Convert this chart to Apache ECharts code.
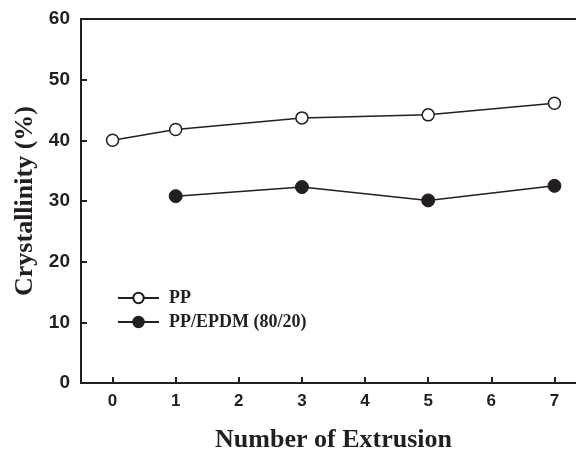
<!DOCTYPE html>
<html lang="en">
<head>
    <meta charset="UTF-8">
    <title>Crystallinity</title>
    <script src="https://cdn.jsdelivr.net/npm/echarts@6/dist/echarts.min.js"></script>
    <style>
        html, body { margin: 0; padding: 0; background: #fff; }
        #chart { width: 576px; height: 454px; }
    </style>
</head>
<body>
    <div id="chart"></div>
    <script>
        // data
        var extrusionPP = [0, 1, 3, 5, 7];
        var crystPP = [40.0, 41.8, 43.7, 44.2, 46.1];
        var extrusionBlend = [1, 3, 5, 7];
        var crystBlend = [30.8, 32.3, 30.1, 32.5];
        var xTicks = [0, 1, 2, 3, 4, 5, 6, 7];

        var ink = '#231f20';
        var sans = 'Liberation Sans';
        var serif = 'Liberation Serif';

        function pairs(xs, ys) {
            var out = [];
            for (var i = 0; i < xs.length; i++) out.push([xs[i], ys[i]]);
            return out;
        }

        var chart = echarts.init(document.getElementById('chart'));
        var option = {
            animation: false,
            backgroundColor: '#fff',
            // v6 shrinks the grid to fit labels unless told not to
            grid: { left: 81, right: -10, top: 19, bottom: 71, outerBoundsMode: 'none', containLabel: false },
            legend: {
                orient: 'vertical',
                left: 117,
                top: 289,
                padding: 0,
                itemWidth: 41,
                itemHeight: 13,
                itemGap: 6,
                textStyle: {
                    fontFamily: serif, fontWeight: 'bold', fontSize: 18, color: ink,
                    padding: [0, 0, 0, 5]
                },
                data: ['PP', 'PP/EPDM (80/20)']
            },
            xAxis: [{
                type: 'value',
                min: -0.5,
                max: 7.5,
                interval: 0.5,
                name: 'Number of Extrusion',
                nameLocation: 'middle',
                nameGap: 44,
                nameTextStyle: { fontFamily: serif, fontWeight: 'bold', fontSize: 26, color: ink },
                axisLine: { onZero: false, lineStyle: { color: ink, width: 2 } },
                axisTick: {
                    inside: true, length: 6, lineStyle: { color: ink, width: 2 },
                    customValues: xTicks
                },
                axisLabel: {
                    margin: 10,
                    fontFamily: sans, fontWeight: 'bold', fontSize: 17, color: ink,
                    customValues: xTicks
                },
                splitLine: { show: false }
            }, {
                type: 'value',
                position: 'top',
                min: -0.5,
                max: 7.5,
                axisLine: { show: true, onZero: false, lineStyle: { color: ink, width: 2 } },
                axisTick: { show: false },
                axisLabel: { show: false },
                splitLine: { show: false }
            }],
            yAxis: {
                type: 'value',
                min: 0,
                max: 60,
                interval: 10,
                name: 'Crystallinity (%)',
                nameLocation: 'middle',
                nameGap: 42,
                nameTextStyle: { fontFamily: serif, fontWeight: 'bold', fontSize: 26, color: ink },
                axisLine: { show: true, onZero: false, lineStyle: { color: ink, width: 2 } },
                axisTick: { show: true, inside: true, length: 6, lineStyle: { color: ink, width: 2 } },
                axisLabel: { margin: 11, fontFamily: sans, fontWeight: 'bold', fontSize: 19, color: ink },
                splitLine: { show: false }
            },
            series: [{
                name: 'PP',
                type: 'line',
                data: pairs(extrusionPP, crystPP),
                symbol: 'circle',
                symbolSize: 12,
                lineStyle: { color: ink, width: 1.5 },
                itemStyle: { color: '#fff', borderColor: ink, borderWidth: 1.5 }
            }, {
                name: 'PP/EPDM (80/20)',
                type: 'line',
                data: pairs(extrusionBlend, crystBlend),
                symbol: 'circle',
                symbolSize: 13,
                lineStyle: { color: ink, width: 1.5 },
                itemStyle: { color: ink, borderColor: ink, borderWidth: 1 }
            }]
        };
        chart.setOption(option);
    </script>
</body>
</html>
